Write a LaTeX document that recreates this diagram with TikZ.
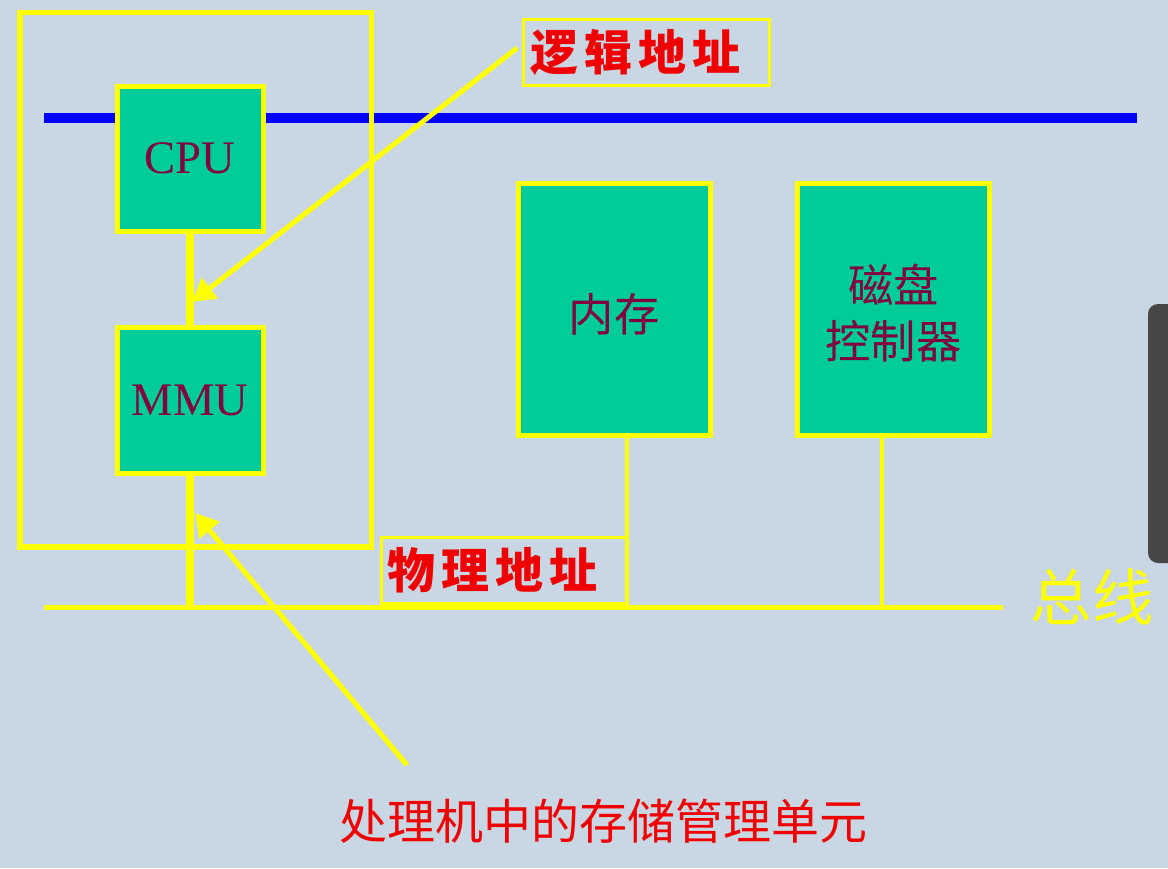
\documentclass[tikz,border=0pt]{standalone}
\usepackage{fontspec}
\setmainfont{Liberation Serif}
\newfontfamily\cjk{Noto Sans CJK SC}
\usetikzlibrary{arrows.meta}
\definecolor{bg}{RGB}{201,214,227}
\definecolor{boxgreen}{RGB}{0,204,153}
\definecolor{ylw}{RGB}{255,255,0}
\definecolor{dred}{RGB}{130,0,60}
\definecolor{lred}{RGB}{240,0,0}
\definecolor{sbar}{RGB}{71,71,71}
\definecolor{busblue}{RGB}{0,0,255}
\begin{document}
\begin{tikzpicture}[x=0.75pt,y=-0.75pt,
  unit/.style={draw=ylw, line width=3.75pt, fill=boxgreen, text=dred, inner sep=0pt, align=center},
  tag/.style={draw=ylw, line width=2.25pt, text=lred, inner sep=0pt,
    minimum width=184.5pt, minimum height=49.5pt,
    font={\cjk\bfseries\fontsize{36pt}{40pt}\selectfont}},
  wire/.style={draw=ylw, line width=3.4pt},
  thickwire/.style={draw=ylw, line width=5.5pt},
  callout/.style={draw=ylw, line width=3.75pt, -{Triangle[length=17pt,width=19pt]}}
]
\useasboundingbox (0,0) rectangle (1168,868);
\fill[bg] (0,0) rectangle (1168,868);
\begin{scope}
  \clip (0,0) rectangle (1168,868);
  \fill[sbar, rounded corners=7.5pt] (1148,304) rectangle (1190,563);
\end{scope}

% blue bus (upper)
\coordinate (blueL) at (44,118);
\coordinate (blueR) at (1137,118);
\draw[busblue, line width=7.5pt] (blueL) -- (blueR);

% processor frame
\draw[ylw, line width=3.9pt] (20,12.5) rectangle (371.5,547);

% lower bus
\coordinate (busL) at (44,607.5);
\coordinate (busR) at (1003,607.5);
\draw[wire] (busL) -- (busR);

% units
\node[unit, minimum width=109.5pt, minimum height=108.75pt,
  font={\fontsize{35pt}{40pt}\selectfont}] (cpu) at (190,158.5) {CPU};
\node[unit, minimum width=109.5pt, minimum height=109.5pt,
  font={\fontsize{35pt}{40pt}\selectfont}] (mmu) at (190,400) {MMU};
\node[unit, minimum width=144pt, minimum height=189pt,
  font={\cjk\fontsize{34pt}{40pt}\selectfont}] (mem) at (614,309.5)
  {\raisebox{-3.75pt}[\height][\depth]{内存}};
\node[unit, minimum width=144pt, minimum height=189pt,
  font={\cjk\fontsize{34pt}{42pt}\selectfont}] (disk) at (893.5,309.5)
  {\raisebox{-7.5pt}[\height][\depth]{\begin{tabular}{@{}c@{}}磁盘\\控制器\end{tabular}}};

% tap positions on the bus
\coordinate (memTap) at (627,0);
\coordinate (diskTap) at (882,0);

% connections
\draw[thickwire] (cpu.south) -- (mmu.north);
\draw[thickwire] (mmu.south) -- (mmu.south |- busL);
\draw[wire] (mem.south -| memTap) -- (memTap |- busL);
\draw[wire] (disk.south -| diskTap) -- (diskTap |- busL);

% tags
\node[tag] (logic) at (646,52) {逻\hspace{4.5pt}辑\hspace{4.5pt}地\hspace{4.5pt}址\rule{16.5pt}{0pt}};
\node[tag] (phys) at (504,570) {物\hspace{4.5pt}理\hspace{4.5pt}地\hspace{4.5pt}址\rule{17pt}{0pt}};

\node[text=ylw, inner sep=0pt, font={\cjk\fontsize{46pt}{50pt}\selectfont}] (buslabel) at (1092,597) {总线};
\node[text=lred, inner sep=0pt, font={\cjk\fontsize{36pt}{40pt}\selectfont}] (caption) at (603,821) {处理机中的存储管理单元};

% callout arrows
\coordinate (logicStart) at (517,48);
\coordinate (logicTip) at (192,302);
\coordinate (mmuTip) at (195,513);
\coordinate (capStart) at (407,765);
\draw[callout] (logicStart) -- (logicTip);
\draw[callout] (capStart) -- (mmuTip);
\end{tikzpicture}
\end{document}
